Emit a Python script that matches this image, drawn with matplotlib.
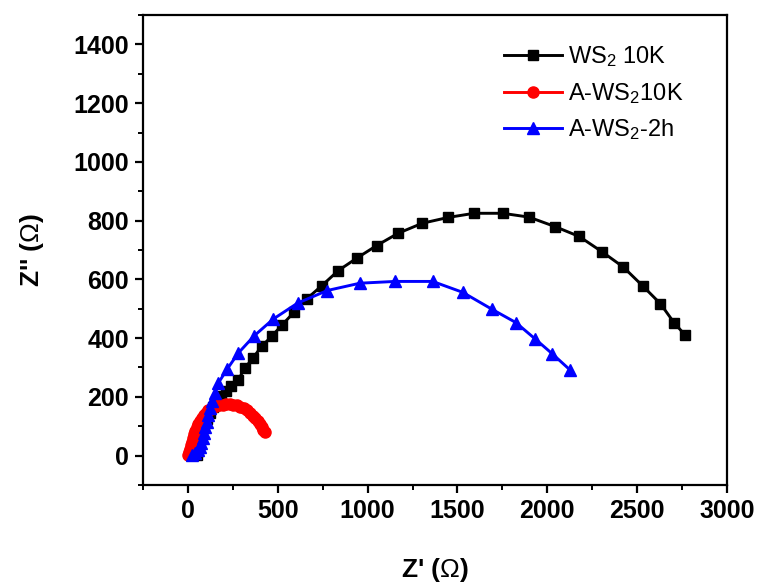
import numpy as np
import matplotlib
matplotlib.use('Agg')
import matplotlib.pyplot as plt
from matplotlib.ticker import MultipleLocator

plt.rcParams.update({
    'font.family': 'Liberation Sans',
    'mathtext.fontset': 'custom',
    'mathtext.rm': 'Liberation Sans',
    'mathtext.it': 'Liberation Sans:italic',
    'mathtext.bf': 'Liberation Sans:bold',
})

# ── Nyquist data (Z' , -Z'') ──────────────────────────────────────────────────
ws2_x = [52, 56, 62, 70, 80, 92, 106, 122, 140, 160, 183, 210, 240, 280, 317,
         364, 410, 466, 521, 590, 660, 744, 837, 939, 1050, 1170, 1304, 1449,
         1593, 1751, 1898, 2042, 2178, 2307, 2423, 2534, 2630, 2705, 2766]
ws2_y = [3, 15, 33, 55, 78, 100, 123, 145, 165, 185, 203, 220, 236, 258, 298,
         334, 372, 406, 443, 488, 533, 578, 630, 672, 715, 757, 791, 811,
         825, 825, 812, 780, 746, 693, 642, 576, 517, 453, 411]

aws2_x = [0, 5, 10, 16, 22, 28, 35, 42, 50, 58, 67, 77, 88, 100, 113, 127, 142,
          158, 175, 193, 212, 232, 252, 272, 292, 312, 330, 347, 362, 376, 389,
          400, 410, 419, 428]
aws2_y = [2, 12, 24, 36, 48, 60, 72, 84, 96, 107, 118, 128, 138, 146, 154, 160,
          165, 169, 172, 174, 175, 175, 174, 171, 167, 161, 154, 145, 136, 127,
          117, 107, 97, 88, 80]

aws2h_x = [25, 40, 55, 66, 75, 83, 90, 97, 104, 112, 121, 132, 148, 169, 219,
           280, 369, 475, 610, 775, 957, 1152, 1362, 1529, 1690, 1825, 1931,
           2029, 2126]
aws2h_y = [3, 9, 18, 30, 44, 60, 77, 96, 116, 138, 161, 186, 213, 247, 295,
           349, 408, 465, 519, 562, 587, 593, 593, 556, 499, 453, 398,
           346, 292]

fig = plt.figure(figsize=(7.62, 5.87), dpi=100)
ax = fig.add_axes([0.1877, 0.1738, 0.7663, 0.8006])

ax.plot(ws2_x, ws2_y, '-s', color='black', lw=2.1, ms=7,
        label=r'WS$_\mathregular{2}$ 10K')
ax.plot(aws2_x, aws2_y, '-o', color='#ff0000', lw=2.1, ms=8,
        label=r'A-WS$_\mathregular{2}$10K')
ax.plot(aws2h_x, aws2h_y, '-^', color='#0000ff', lw=2.1, ms=8.5,
        label=r'A-WS$_\mathregular{2}$-2h')

ax.set_xlim(-250, 3000)
ax.set_ylim(-100, 1500)
ax.xaxis.set_minor_locator(MultipleLocator(250))
ax.yaxis.set_minor_locator(MultipleLocator(100))
ax.set_xticks(np.arange(0, 3001, 500))
ax.set_yticks(np.arange(0, 1401, 200))

for s in ax.spines.values():
    s.set_linewidth(1.6)
ax.tick_params(which='major', direction='out', length=6, width=1.6,
               labelsize=18, pad=4)
ax.tick_params(which='minor', direction='out', length=3.5, width=1.4)
for lab in ax.get_xticklabels() + ax.get_yticklabels():
    lab.set_fontweight('bold')

ax.set_xlabel("Z' ($\\Omega$)", fontsize=19, fontweight='bold', labelpad=24)
ax.set_ylabel("Z'' ($\\Omega$)", fontsize=19, fontweight='bold', labelpad=20)

ax.legend(loc='upper left', bbox_to_anchor=(0.618, 0.938), frameon=False,
          fontsize=17, handlelength=2.45, labelspacing=0.5, borderpad=0,
          borderaxespad=0, handletextpad=0.25)

fig.savefig('out.png', dpi=100)
